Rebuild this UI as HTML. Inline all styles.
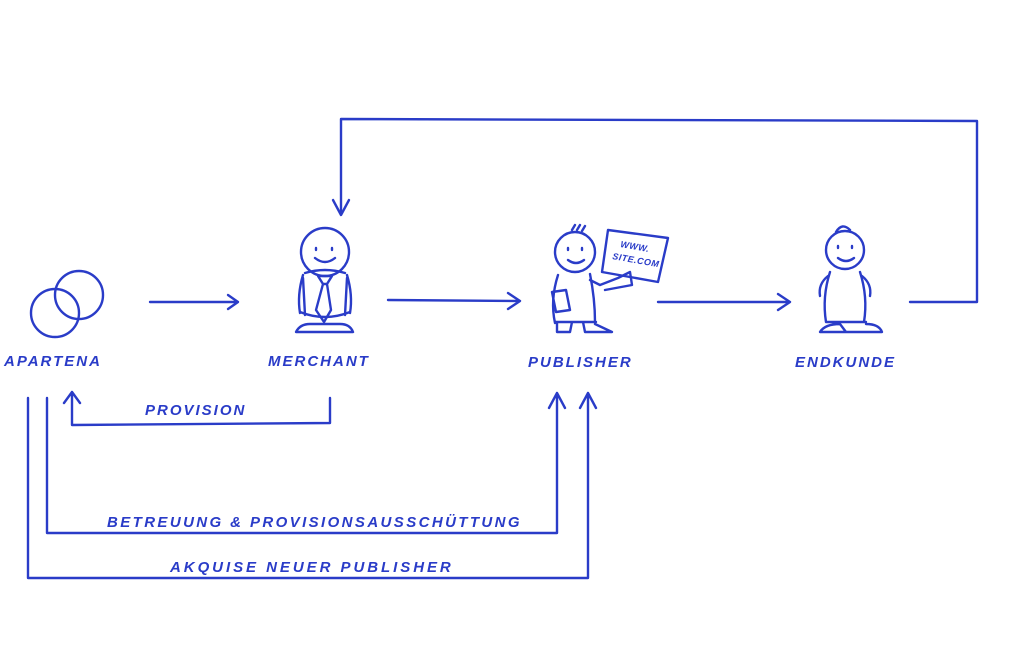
<!DOCTYPE html>
<html><head><style>
body{margin:0;background:#fff;width:1030px;height:660px;overflow:hidden}
svg{display:block}
text{font-family:"Liberation Sans",sans-serif;font-weight:bold;font-style:italic;fill:#2a3cc8;font-size:15px;letter-spacing:2px}
</style></head><body>
<svg width="1030" height="660" viewBox="0 0 1030 660" fill="none" stroke="#2a3cc8" stroke-width="2.4" stroke-linecap="round" stroke-linejoin="round">
<path d="M910 302 L977 302 L977 121 L341 119 L341 214"/>
<path d="M333 200 L341 215 L349 200"/>
<path d="M150 302 L238 302 M228 295 L238 302 L228 309"/>
<path d="M388 300 L520 301 M508 293 L520 301 L508 309"/>
<path d="M658 302 L790 302 M778 294 L790 302 L778 310"/>
<circle cx="55" cy="313" r="24"/>
<circle cx="79" cy="295" r="24"/>
<circle cx="325" cy="252" r="24"/>
<path d="M316 248 v2 M332 248 v2 M315 258 q10 8 20 0"/>
<path d="M303 275 q-6 20 -3 38 M347 275 q6 20 3 38 M305 273 q20 -6 40 0 M300 312 q25 10 50 0"/>
<path d="M296 332 q4 -8 14 -8 L340 324 q10 0 13 8 Z"/>
<path d="M318 276 L332 276 L327 284 L323 284 Z M323 284 L316 310 L324 322 L331 310 L327 284"/>
<path d="M303 278 L305 315 M347 278 L345 315"/>
<circle cx="575" cy="252" r="20"/>
<path d="M568 248 v2 M582 248 v2 M568 260 q8 6 16 0 M572 230 l3 -5 M577 230 l3 -5 M582 231 l3 -5"/>
<path d="M558 275 q-8 25 -3 48 M590 274 q5 25 5 48 M556 322 L596 322 M557 322 v10 L570 332 L572 322 M583 322 L585 332 L612 332 L595 324"/>
<path d="M590 280 L600 285 L618 278 L630 272 L632 285 L605 290"/>
<path d="M552 292 L566 290 L570 310 L556 312 Z"/>
<path d="M608 230 L668 238 L658 282 L602 272 Z"/>
<text x="620" y="247" stroke="none" style="font-size:9px;letter-spacing:0.5px" transform="rotate(10 620 247)">WWW.</text>
<text x="612" y="259" stroke="none" style="font-size:9px;letter-spacing:0.5px" transform="rotate(10 612 259)">SITE.COM</text>
<circle cx="845" cy="250" r="19"/>
<path d="M838 246 v2 M852 246 v2 M838 258 q8 6 16 0 M836 232 q6 -10 14 -2"/>
<path d="M830 272 q-8 25 -4 50 M860 272 q8 25 4 50 M826 322 L866 322 M820 332 q5 -8 20 -8 L846 332 Z M846 332 L882 332 q-3 -8 -16 -8"/>
<path d="M828 276 q-10 8 -8 20 M862 276 q10 8 8 20"/>
<path d="M330 398 L330 423 L72 425 L72 392 M64 403 L72 392 L80 403"/>
<path d="M47 398 L47 533 L557 533 L557 393 M549 408 L557 393 L565 408"/>
<path d="M28 398 L28 578 L588 578 L588 393 M580 408 L588 393 L596 408"/>
<g stroke="none">
<text x="4" y="366">APARTENA</text>
<text x="268" y="366">MERCHANT</text>
<text x="528" y="367">PUBLISHER</text>
<text x="795" y="367">ENDKUNDE</text>
<text x="145" y="415">PROVISION</text>
<text x="107" y="527" style="letter-spacing:2.4px">BETREUUNG &amp; PROVISIONSAUSSCHÜTTUNG</text>
<text x="170" y="572" style="letter-spacing:2.95px">AKQUISE NEUER PUBLISHER</text>
</g>
</svg>
</body></html>
